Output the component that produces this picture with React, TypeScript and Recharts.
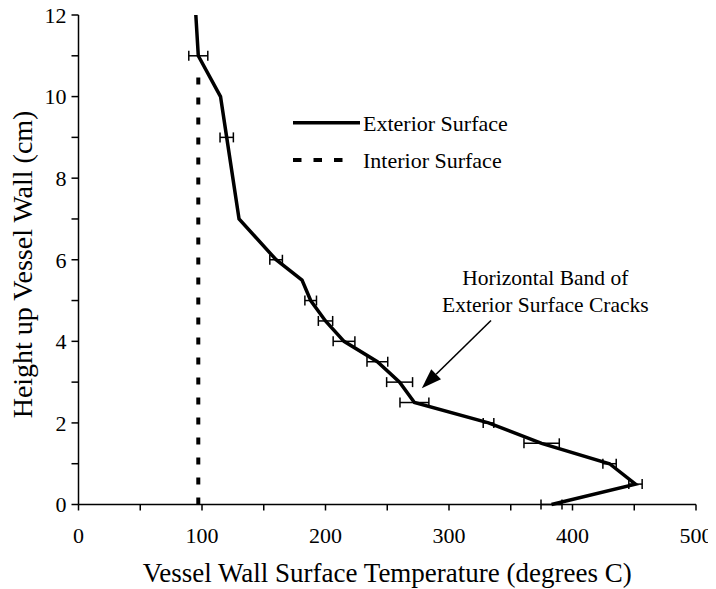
import React from 'react';
import {
  ScatterChart,
  Scatter,
  XAxis,
  YAxis,
  ErrorBar,
  Legend,
  ReferenceLine,
  ReferenceDot,
} from 'recharts';

const FONT = '"Liberation Serif", "Times New Roman", serif';

// exterior surface profile (temp in deg C, height in cm, +/- error)
const exteriorTemp = [95, 97, 115, 120, 130, 160, 181, 188, 200, 215, 242, 260, 272, 332, 375, 430, 451, 383];
const exteriorHeight = [12, 11, 10, 9, 7, 6, 5.5, 5, 4.5, 4, 3.5, 3, 2.5, 2, 1.5, 1, 0.5, 0];
const exteriorError = [0, 7.7, 0, 5.4, 0, 5.1, 0, 4.7, 5.8, 8.8, 8.4, 10.5, 11.7, 4.3, 14.3, 5.4, 5.4, 8.5];

// interior surface stays flat
const interiorTemp = [97, 97];
const interiorHeight = [0, 10.7];

const xTicks = [0, 50, 100, 150, 200, 250, 300, 350, 400, 450, 500];
const yTicks = [0, 1, 2, 3, 4, 5, 6, 7, 8, 9, 10, 11, 12];

const annotationLines = ['Horizontal Band of', 'Exterior Surface Cracks'];
const annotationAt = { x: 378, y: 5.05 };
const arrowFrom = { x: 334, y: 4.51 };
const arrowTo = { x: 278, y: 2.85 };

const exteriorData = exteriorTemp.map((t, i) => ({
  temp: t,
  height: exteriorHeight[i],
  err: exteriorError[i],
}));
const errorData = exteriorData.filter((d) => d.err > 0);
const interiorData = interiorTemp.map((t, i) => ({ temp: t, height: interiorHeight[i] }));

const legendDash: Record<string, string> = { 'Interior Surface': '8.5 12' };

const noShape = () => <g />;

const renderLegend = (props: any) => {
  const items = (props.payload || []).filter((p: any) => p.type !== 'none');
  return (
    <svg width={260} height={75} style={{ display: 'block' }}>
      {items.map((item: any, i: number) => {
        const cy = 19.7 + i * 37.3;
        const dash = legendDash[item.value];
        return (
          <g key={item.value}>
            <line
              x1={0}
              y1={cy}
              x2={dash ? 51 : 67}
              y2={cy}
              stroke="#000"
              strokeWidth={dash ? 4 : 3.5}
              strokeDasharray={dash}
            />
            <text x={70} y={cy + 8} fontSize={22} fontFamily={FONT} fill="#000">
              {item.value}
            </text>
          </g>
        );
      })}
    </svg>
  );
};

const renderXTitle = (props: any) => {
  const { viewBox } = props;
  return (
    <text
      x={viewBox.x + viewBox.width / 2}
      y={viewBox.y + viewBox.height - 7.3}
      textAnchor="middle"
      fontSize={27}
      fontFamily={FONT}
      fill="#000"
    >
      Vessel Wall Surface Temperature (degrees C)
    </text>
  );
};

const renderYTitle = (props: any) => {
  const { viewBox } = props;
  const x = viewBox.x + 23.7;
  const y = viewBox.y + viewBox.height / 2 + 4.7;
  return (
    <text
      x={x}
      y={y}
      transform={`rotate(-90, ${x}, ${y})`}
      textAnchor="middle"
      fontSize={28}
      fontFamily={FONT}
      fill="#000"
    >
      Height up Vessel Wall (cm)
    </text>
  );
};

const renderArrow = (props: any) => {
  const { x1, y1, x2, y2 } = props;
  const dx = x2 - x1;
  const dy = y2 - y1;
  const len = Math.hypot(dx, dy) || 1;
  const ux = dx / len;
  const uy = dy / len;
  const headLen = 20;
  const half = 7;
  const bx = x2 - ux * headLen;
  const by = y2 - uy * headLen;
  const pts = `${x2},${y2} ${bx - uy * half},${by + ux * half} ${bx + uy * half},${by - ux * half}`;
  return (
    <g>
      <line x1={x1} y1={y1} x2={bx} y2={by} stroke="#000" strokeWidth={1.6} />
      <polygon points={pts} fill="#000" />
    </g>
  );
};

const renderNote = (props: any) => {
  const { cx, cy } = props;
  return (
    <g>
      {annotationLines.map((line, i) => (
        <text
          key={line}
          x={cx}
          y={cy - 13.6 + i * 27.3}
          textAnchor="middle"
          fontSize={21.5}
          fontFamily={FONT}
          fill="#000"
        >
          {line}
        </text>
      ))}
    </g>
  );
};

const fmtX = (v: number) => (v % 100 === 0 ? String(v) : '');
const fmtY = (v: number) => (v % 2 === 0 ? String(v) : '');

const tickStyle = { fill: '#000', fontSize: 22, fontFamily: FONT, style: { fontFamily: FONT } };
const axisStroke = { stroke: '#000', strokeWidth: 1.5 };

export default function App() {
  return (
    <div style={{ width: 708, height: 581, background: '#fff', fontFamily: FONT }}>
      <style>{'.recharts-surface { overflow: visible; }'}</style>
      <ScatterChart width={708} height={581} margin={{ top: 7, right: 20, bottom: 0, left: 0 }}>
        <XAxis
          type="number"
          dataKey="temp"
          domain={[0, 500]}
          ticks={xTicks}
          interval={0}
          tickFormatter={fmtX}
          tickSize={6}
          tickMargin={17}
          height={84.5}
          tick={tickStyle}
          axisLine={axisStroke}
          tickLine={axisStroke}
          label={renderXTitle}
        />
        <YAxis
          type="number"
          dataKey="height"
          domain={[0, 12]}
          ticks={yTicks}
          interval={0}
          tickFormatter={fmtY}
          tickSize={7}
          tickMargin={5}
          width={70.5}
          tick={tickStyle}
          axisLine={axisStroke}
          tickLine={axisStroke}
          label={renderYTitle}
        />
        <Legend
          layout="vertical"
          align="center"
          verticalAlign="middle"
          wrapperStyle={{ left: 285, top: 95, width: 260 }}
          content={renderLegend}
        />
        <Scatter
          name="Exterior Surface"
          data={exteriorData}
          fill="#000"
          line={{ stroke: '#000', strokeWidth: 3.5 }}
          lineJointType="linear"
          shape={noShape}
          isAnimationActive={false}
        />
        <Scatter
          name="Interior Surface"
          data={interiorData}
          fill="#000"
          line={{ stroke: '#000', strokeWidth: 4, strokeDasharray: '7 13' }}
          shape={noShape}
          isAnimationActive={false}
        />
        <Scatter
          name="error"
          data={errorData}
          fill="#000"
          shape={noShape}
          legendType="none"
          isAnimationActive={false}
        >
          <ErrorBar dataKey="err" direction="x" width={5} stroke="#000" strokeWidth={1.5} isAnimationActive={false} />
        </Scatter>
        <ReferenceLine segment={[arrowFrom, arrowTo]} shape={renderArrow} />
        <ReferenceDot x={annotationAt.x} y={annotationAt.y} r={0} shape={renderNote} />
      </ScatterChart>
    </div>
  );
}
